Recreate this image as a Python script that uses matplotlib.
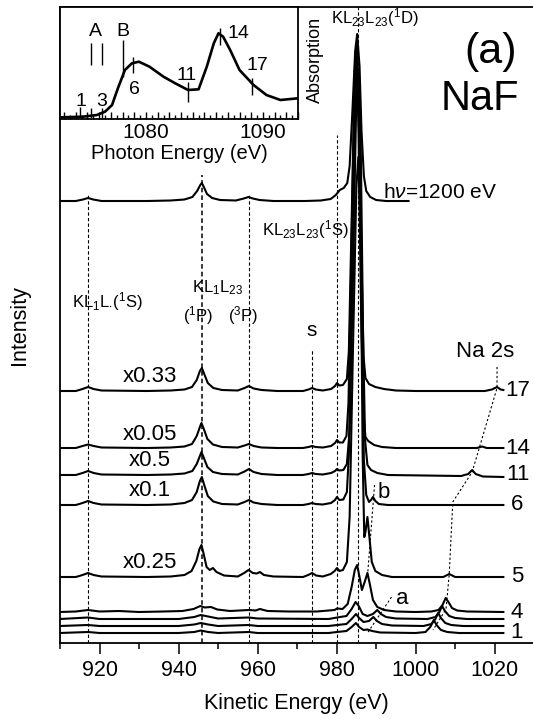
import numpy as np
import matplotlib
matplotlib.use('Agg')
import matplotlib.pyplot as plt
from matplotlib.ticker import MultipleLocator, FuncFormatter

plt.rcParams['font.family'] = ['Liberation Sans', 'DejaVu Sans']
plt.rcParams['mathtext.fontset'] = 'custom'
plt.rcParams['mathtext.rm'] = 'Liberation Sans'
plt.rcParams['mathtext.it'] = 'Liberation Sans:italic'
plt.rcParams['mathtext.bf'] = 'Liberation Sans:bold'

# ---- spectra: (kinetic energy eV, intensity above own baseline) ----
hv1200 = [(910, 0), (914, 0), (915.8, 1.5), (917.1, 3), (918.4, 1.5), (920.5, 0), (932, 0), (938, 0.5),
          (941.5, 1.5), (943.5, 4), (944.7, 10), (945.5, 16), (945.9, 18), (946.4, 14), (947.2, 7), (948.5, 3),
          (950.5, 1), (954.5, 0.5), (956.5, 2.5), (957.7, 4), (958.8, 2.5), (960.5, 1), (964, 0), (972, 0),
          (976, 0.5), (978.5, 2), (979.8, 6), (980.8, 11), (981.8, 13), (982.7, 18), (983.3, 35), (984.0, 90),
          (984.7, 150), (985.2, 167), (985.8, 135), (986.3, 70), (986.9, 25), (987.5, 10), (988.5, 4),
          (990, 1), (992.5, 0), (998.2, 0)]

trace_17 = [(910, 0), (914, 0), (915.7, 2), (917.1, 4), (918.5, 2), (920.5, 0.5), (932, 0), (938, 0.5),
            (941.5, 1.5), (943.4, 4), (944.6, 11), (945.4, 20), (945.9, 23), (946.5, 17), (947.4, 8), (948.8, 3),
            (951, 1), (955, 0.5), (956.7, 3), (957.8, 5), (959, 2.5), (961, 1), (965, 0), (971.5, 0),
            (972.9, 1.5), (973.8, 3), (974.7, 1.5), (976.5, 0.5), (978.6, 2), (979.6, 5), (980.1, 8),
            (980.7, 5.5), (981.6, 6), (982.6, 12), (983.1, 40), (983.8, 170), (984.6, 320), (985.1, 345),
            (985.7, 290), (986.3, 130), (986.8, 35), (987.3, 13), (988.2, 7), (989.8, 4), (992, 2), (995, 0.5),
            (1000, 0), (1017.5, 0), (1019.3, 1.5), (1020.6, 4), (1021.5, 1.5), (1022.2, 1)]

trace_14 = [(910, 0), (914, 0), (915.7, 2), (917.1, 3.5), (918.5, 2), (920.5, 0.5), (932, 0), (938, 0.5),
            (941.5, 1.5), (943.4, 4), (944.6, 12), (945.4, 21), (945.8, 25), (946.4, 19), (947.3, 9),
            (948.7, 3.5), (951, 1), (955, 0.5), (956.7, 2.5), (957.8, 4), (959, 2), (961, 0.5), (965, 0),
            (971.5, 0), (972.9, 1), (973.8, 2), (974.7, 1), (976.5, 0.5), (978.6, 2), (979.6, 5), (980.1, 8),
            (980.7, 5.5), (981.6, 5.5), (982.5, 12), (983.0, 45), (983.6, 160), (984.4, 340), (984.9, 385),
            (985.5, 330), (986.1, 160), (986.7, 40), (987.3, 11), (988.0, 7), (989.5, 3), (991.5, 1), (995, 0),
            (1015.5, 0), (1016.8, 1.5), (1018, 0), (1022.2, 0)]

trace_11 = [(910, 0), (914, 0), (915.7, 2), (917.1, 4), (918.5, 2), (920.5, 0.5), (932, 0), (938, 0.5),
            (941.5, 1.5), (943.5, 4), (944.6, 11), (945.4, 19), (945.8, 23), (946.4, 17), (947.3, 8), (948.7, 3),
            (951, 1), (955, 0.5), (956.7, 3.5), (957.8, 6), (959, 3), (961, 1), (965, 0), (971.5, 0),
            (972.9, 1), (973.8, 2), (974.7, 1), (976.5, 0.5), (978.6, 2), (979.6, 4), (980.1, 6), (980.7, 4.5),
            (981.7, 5), (982.6, 11), (983.3, 45), (984.1, 190), (985.0, 380), (985.5, 405), (986.1, 330),
            (986.7, 140), (987.2, 35), (987.8, 10), (988.7, 5), (990.3, 2), (993, 0), (1011.5, -1),
            (1013.3, 1), (1014.3, 5), (1015.2, 1), (1017, -1.5), (1022.2, -2)]

trace_6 = [(910, 0), (914, 0), (915.7, 2), (917.1, 4), (918.5, 2), (920.5, 0.5), (932, 0), (938, 0.5),
           (941.5, 2), (943.4, 5), (944.6, 13), (945.4, 24), (945.9, 28), (946.5, 20), (947.4, 9), (948.8, 3.5),
           (951, 1), (955, 0.5), (956.7, 3), (957.8, 5), (959, 2.5), (961, 1), (965, 0), (971.5, 0),
           (972.9, 1), (973.8, 2), (974.7, 1), (976.5, 0.5), (978.6, 2), (979.6, 5), (980.1, 8), (980.7, 5),
           (981.7, 5.5), (982.6, 13), (983.1, 50), (983.8, 200), (984.6, 390), (985.2, 425), (985.8, 360),
           (986.4, 170), (986.9, 45), (987.5, 10), (988.2, 3), (988.7, 5), (989.2, 8), (989.8, 4), (990.7, 1),
           (993, 0), (1022.2, 0)]

trace_5 = [(910, 0), (914, 0), (915.7, 2), (917.1, 4), (918.5, 2), (920.5, 0.5), (932, 0), (938, 0.5),
           (941.5, 2), (943.3, 6), (944.5, 16), (945.3, 28), (945.8, 32), (946.3, 24), (947.1, 10), (947.9, 7),
           (948.7, 9), (949.6, 5), (951.5, 1.5), (955, 0.5), (956.6, 4), (957.7, 7), (958.8, 4), (959.8, 3.5),
           (960.6, 5), (961.6, 2), (964, 0.5), (971.5, 0), (972.8, 2), (973.8, 4), (974.8, 1.5), (976.5, 0.5),
           (978.5, 3), (979.5, 6), (980.1, 9), (980.7, 6), (981.6, 7), (982.6, 15), (983.3, 60), (984.1, 220),
           (985.0, 390), (985.5, 420), (986.1, 340), (986.6, 120), (987.0, 40), (987.3, 45), (987.8, 60),
           (988.3, 40), (988.9, 15), (989.8, 6), (991.5, 2), (994, 0), (1007, 0), (1008.5, 3), (1010, 0),
           (1022.2, 0)]

trace_4 = [(910, 0), (914, 0.5), (917.1, 2), (920, 0.5), (925, 1), (930, 0), (936, 0.5), (941, 1), (943.8, 3),
           (945.5, 6), (946.6, 4.5), (948.2, 5), (949.8, 2.5), (953, 1), (957.8, 2), (959.5, 1.5), (960.6, 3),
           (962.5, 1), (968, 0.5), (975, 0.5), (979.5, 2), (980.1, 3.5), (981.5, 3), (982.8, 8), (983.8, 25),
           (984.6, 42), (985.2, 47), (985.8, 35), (986.4, 22), (987.1, 30), (987.8, 39), (988.4, 28),
           (989.2, 12), (990.3, 5), (992, 2), (995, 0.5), (1000, 0), (1004, 0.5), (1005.8, 2), (1006.8, 7),
           (1007.6, 14), (1008.3, 10), (1009.2, 4), (1010.5, 1.5), (1013, 0.5), (1022.2, 0)]

trace_3 = [(910, 0), (917.1, 1.5), (920, 0), (940, 0), (944, 2), (945.6, 4), (947.5, 2.5), (950, 0.5),
           (957.8, 1.5), (960, 0.5), (978, 0), (980.1, 1.5), (982.5, 3), (983.8, 10), (984.8, 17), (985.6, 13),
           (986.6, 5), (987.8, 3), (989.2, 5), (990.3, 9), (991.2, 5), (992.5, 2), (995, 0.5), (1003, 0),
           (1005, 2), (1006, 7), (1006.7, 13), (1007.4, 8), (1008.5, 3), (1010, 1), (1013, 0), (1022.2, 0)]

trace_2 = [(910, 0), (917.1, 1), (920, 0), (940, 0), (944, 1.5), (945.6, 3), (947.5, 1.5), (950, 0),
           (957.8, 1), (960, 0), (978, 0), (980.1, 1), (982.5, 2), (983.8, 7), (984.9, 12), (985.7, 8),
           (986.8, 4), (988.2, 5), (989.3, 9), (990.2, 5), (991.5, 2), (994, 0.5), (1002, 0), (1004, 2),
           (1005, 7), (1005.7, 13), (1006.4, 8), (1007.5, 3), (1009, 1), (1012, 0), (1022.2, 0)]

trace_1 = [(910, 0), (917.1, 1), (920, 0), (940, 0), (944, 1), (945.6, 2.5), (947.5, 1), (950, 0),
           (957.8, 1), (960, 0), (978, 0), (980.1, 1), (982.5, 2), (983.8, 6), (984.9, 10), (985.7, 6),
           (986.8, 3), (987.8, 3.5), (989, 2), (991, 0.5), (1000, 0), (1002.5, 1), (1003.7, 6), (1004.6, 13),
           (1005.3, 8), (1006.4, 3), (1008, 1), (1011, 0), (1022.2, 0)]

spectra = [hv1200, trace_17, trace_14, trace_11, trace_6, trace_5, trace_4, trace_3, trace_2, trace_1]
offsets = [442, 252, 195, 168, 138, 66, 31, 24, 17, 10]
end_labels = ['', '17', '14', '11', '6', '5', '4', '', '', '1']
scale_labels = ['', 'x0.33', 'x0.05', 'x0.5', 'x0.1', 'x0.25', '', '', '', '']

# Auger line positions (eV) and top of their marker lines
line_E = [917.1, 945.9, 957.8, 973.8, 980.1, 985.3]
line_top = [450, 468, 450, 293, 508, 638]

# Na 2s shift across photon energies: (energy, spectrum index)
na2s_E = [1020.6, 1020.6, 1014.3, 1009.4, 1008.5, 1007.7, 1004.4]
na2s_idx = [None, 1, 3, 4, 5, 6, 9]

# inset: absorption spectrum
abs_E = [1072.8, 1074.6, 1075.8, 1076.5, 1077.1, 1077.6, 1078.2, 1078.8, 1079.4, 1080.3, 1081.5, 1082.5,
         1083.6, 1084.5, 1085.2, 1085.8, 1086.2, 1086.6, 1087.2, 1088.0, 1089.2, 1090.3, 1091.5, 1093.0]
abs_I = [1.7, 2.3, 4, 7.3, 14, 30.7, 49, 55.7, 57.3, 52.3, 42.3, 35.7, 29, 29.7, 52.3, 75.7, 85.7, 82.3,
         69, 49, 34, 24, 19, 20.7]
mark_E = [1074.4, 1075.3, 1076.2, 1075.3, 1076.2, 1078.0, 1078.9, 1083.6, 1086.3, 1089.1]
mark_lo = [1, 1, 1, 54, 54, 42, 46, 17, 74, 24]
mark_hi = [12, 11, 11, 76, 76, 79, 62, 37, 91, 41]
mark_text = ['1', '3', 'A', 'B', '6', '11', '14', '17']
mark_text_E = [1074.4, 1076.2, 1075.7, 1078.0, 1079.0, 1083.5, 1087.9, 1089.5]
mark_text_Y = [17, 17, 87.5, 87.5, 29, 44, 85.5, 53.5]

fig = plt.figure(figsize=(5.33, 7.19), dpi=100)
ax = fig.add_axes([60 / 533, 76 / 719, 473 / 533, 636 / 719])

dash = (0, (3, 2))
for e, top in zip(line_E, line_top):
    ax.plot([e, e], [0, top], color='black', lw=1.1 if e == 945.9 else 0.8, ls=dash, zorder=1)

for pts, off in zip(spectra, offsets):
    e, i = zip(*pts)
    ax.plot(e, np.array(i) + off, color='black', lw=1.5, solid_joinstyle='round', zorder=2)

for lab, off in zip(end_labels, offsets):
    if lab:
        ax.text(1025.8 if len(lab) == 2 else 1025.6, off, lab, fontsize=16, ha='center', va='center')

for lab, off in zip(scale_labels, offsets):
    if lab:
        ax.text(932.7, off + 14, lab, fontsize=16, ha='center', va='center')

# Na 2s guide
ys = [276] + [offsets[k] + 3 for k in na2s_idx[1:]]
ax.plot(na2s_E, ys, color='black', lw=0.8, ls=(0, (2, 2)))
# satellite guides a, b
ax.plot([993.9, 987.8], [46, 10], color='black', lw=0.8, ls=(0, (2, 2)))
ax.plot([989.6, 987.8], [158, 66], color='black', lw=0.8, ls=(0, (2, 2)))

ax.text(1017.6, 291.5, 'Na 2s', fontsize=16, ha='center', va='center')
ax.text(992.0, 150.5, 'b', fontsize=16, ha='center', va='center')
ax.text(996.7, 45, 'a', fontsize=16, ha='center', va='center')
ax.text(991.8, 450, r'h$\nu$=1200 eV', fontsize=15, ha='left', va='center')
ax.text(989.7, 625, r'KL$_{23}$L$_{23}$($^1$D)', fontsize=12, ha='center', va='center')
ax.text(972.0, 413, r'KL$_{23}$L$_{23}$($^1$S)', fontsize=12, ha='center', va='center')
ax.text(922.0, 341, r'KL$_1$L$_{\cdot}$($^1$S)', fontsize=12, ha='center', va='center')
ax.text(950.0, 355, r'KL$_1$L$_{23}$', fontsize=12, ha='center', va='center')
ax.text(944.9, 327, r'($^1$P)', fontsize=12, ha='center', va='center')
ax.text(956.3, 327, r'($^3$P)', fontsize=12, ha='center', va='center')
ax.text(973.8, 313, 's', fontsize=15, ha='center', va='center')
ax.text(1018.9, 591, '(a)', fontsize=31, ha='center', va='center')
ax.text(1016.3, 544, 'NaF', fontsize=30, ha='center', va='center')

ax.set_xlim(910, 1029.7)
ax.set_ylim(0, 636)
ax.set_yticks([])
ax.xaxis.set_major_locator(MultipleLocator(20))
ax.xaxis.set_minor_locator(MultipleLocator(10))
ax.tick_params(axis='x', which='major', direction='out', length=8, width=1.1, labelsize=15.5, pad=4)
ax.tick_params(axis='x', which='minor', direction='out', length=4.5, width=1.1)
ax.spines['right'].set_visible(False)
for s in ['left', 'top', 'bottom']:
    ax.spines[s].set_linewidth(1.3)
ax.set_xlabel('Kinetic Energy (eV)', fontsize=15.5, labelpad=9)
fig.text(20 / 533, 1 - 325 / 719, 'Intensity', rotation=90, ha='center', va='center', fontsize=15.5)

# ---- inset ----
ins = fig.add_axes([60 / 533, 600 / 719, 238 / 533, 112 / 719])
ins.plot(abs_E, abs_I, color='black', lw=1.9)
ins.vlines(mark_E, mark_lo, mark_hi, color='black', lw=1.0)
for t, e, y in zip(mark_text, mark_text_E, mark_text_Y):
    ins.text(e, y, t, fontsize=14, ha='center', va='center')
ins.set_xlim(1072.65, 1093)
ins.set_ylim(0, 112)
ins.set_yticks([])
ins.xaxis.set_major_locator(MultipleLocator(1))
ins.xaxis.set_minor_locator(MultipleLocator(0.5))
ins.xaxis.set_major_formatter(FuncFormatter(lambda v, p: f'{v:.0f}' if round(v) % 10 == 0 else ''))
ins.tick_params(axis='x', which='major', direction='in', length=5, width=1.0, labelsize=15, pad=3)
ins.tick_params(axis='x', which='minor', direction='in', length=3, width=1.0)
for s in ins.spines.values():
    s.set_linewidth(1.3)
ins.set_xlabel('Photon Energy (eV)', fontsize=14.5, labelpad=1)
fig.text(315 / 533, 1 - 60 / 719, 'Absorption', rotation=90, ha='center', va='center', fontsize=13)

fig.savefig('out.png', dpi=100)
